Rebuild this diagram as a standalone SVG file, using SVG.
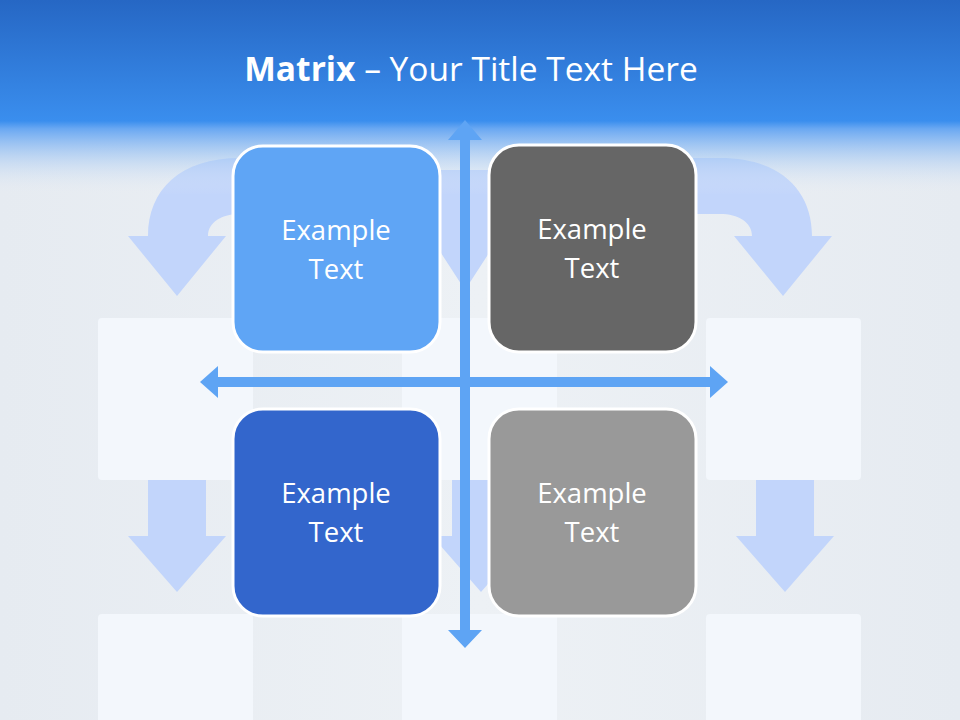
<svg xmlns="http://www.w3.org/2000/svg" width="960" height="720" viewBox="0 0 960 720">
<defs>
<linearGradient id="hdr" x1="0" y1="0" x2="0" y2="1">
<stop offset="0" stop-color="#2667c4"/>
<stop offset="0.62" stop-color="#3a8eee"/>
<stop offset="0.66" stop-color="#6aa8f2"/>
<stop offset="1" stop-color="#e9eef4" stop-opacity="0"/>
</linearGradient>
<linearGradient id="bg" x1="0" y1="0" x2="1" y2="0">
<stop offset="0" stop-color="#e6ebf1"/>
<stop offset="0.5" stop-color="#edf1f5"/>
<stop offset="1" stop-color="#e6ebf1"/>
</linearGradient>
<style>
.pale{fill:#f3f7fc}
.ba{fill:#c2d5fb}
.t{font-family:"Open Sans","Noto Sans",sans-serif;font-size:27.5px;fill:#fff;text-anchor:middle}
.box{stroke:#fff;stroke-width:3}
.ax{fill:#5ea4f4}
</style>
</defs>
<rect width="960" height="720" fill="url(#bg)"/>
<g id="background">
<rect class="pale" x="98" y="318" width="155" height="162" rx="4"/>
<rect class="pale" x="402" y="318" width="155" height="162" rx="4"/>
<rect class="pale" x="706" y="318" width="155" height="162" rx="4"/>
<rect class="pale" x="98" y="614" width="155" height="110" rx="4"/>
<rect class="pale" x="402" y="614" width="155" height="110" rx="4"/>
<rect class="pale" x="706" y="614" width="155" height="110" rx="4"/>
<path class="ba" d="M148 480h58v56h20l-49 56-49-56h20z"/>
<path class="ba" d="M452 480h58v56h20l-49 56-49-56h20z"/>
<path class="ba" d="M756 480h58v56h20l-49 56-49-56h20z"/>
<path class="ba" d="M148 236 C148 190 180 158 240 158 H300 V214 H240 C222 214 208 222 208 236 H226 L177 296 L128 236 Z"/>
<path class="ba" d="M812 236 C812 190 780 158 720 158 H660 V214 H720 C738 214 752 222 752 236 H734 L783 296 L832 236 Z"/>
<path class="ba" d="M440 170 H490 V236 H500 L465 290 L430 236 H440 Z"/>
</g>
<rect width="960" height="195" fill="url(#hdr)"/>
<text x="471" y="81" font-family="Open Sans,Noto Sans,sans-serif" font-size="33.5" fill="#fff" text-anchor="middle"><tspan font-weight="bold">Matrix</tspan> – Your Title Text Here</text>
<g id="n1"><rect class="box" x="233" y="146" width="207" height="206" rx="30" fill="#5fa5f5"/><text class="t" x="336" y="240">Example</text><text class="t" x="336" y="279">Text</text></g>
<g id="n2"><rect class="box" x="489" y="145" width="207" height="207" rx="30" fill="#666666"/><text class="t" x="592" y="239">Example</text><text class="t" x="592" y="278">Text</text></g>
<g id="n3"><rect class="box" x="233" y="409" width="207" height="207" rx="30" fill="#3366cc"/><text class="t" x="336" y="503">Example</text><text class="t" x="336" y="542">Text</text></g>
<g id="n4"><rect class="box" x="489" y="409" width="207" height="207" rx="30" fill="#999999"/><text class="t" x="592" y="503">Example</text><text class="t" x="592" y="542">Text</text></g>
<g id="connectors">
<path class="ax" d="M460 140 H448 L465 120 L482 140 H470 V630 H482 L465 648 L448 630 H460 Z"/>
<path class="ax" d="M218 377 V366 L200 382 L218 398 V387 H710 V398 L728 382 L710 366 V377 Z"/>
</g>
</svg>
